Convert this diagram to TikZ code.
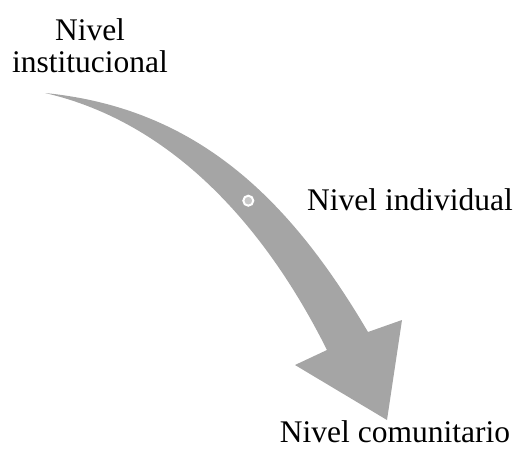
\documentclass[tikz,border=0pt]{standalone}
\usepackage{fontspec}
\setmainfont{Liberation Serif}
\definecolor{arrowgray}{RGB}{165,165,165}
\definecolor{dotgray}{RGB}{200,200,200}
\tikzset{lbl/.style={inner sep=0pt,font=\fontsize{31.5}{32}\selectfont}}

\begin{document}
\begin{tikzpicture}[x=1pt,y=-1pt]
	\useasboundingbox (0,0) rectangle (515,448);
	
	\fill[arrowgray] (45,93) .. controls (195,108) and (288,196) .. (368,332)
		-- (402,320) -- (387,420) -- (295,365) -- (327,350)
		.. controls (267,230) and (175,123) .. (45,93) -- cycle;
	\draw[white,line width=2pt,fill=dotgray] (248.3,200.7) circle (5);
	
	\node[lbl,anchor=base,align=center] (inst) at (90,72) {Nivel\\institucional};
	\node[lbl,anchor=base west] (indiv) at (307,210) {Nivel individual};
	\node[lbl,anchor=base] (comun) at (395,442) {Nivel comunitario};
\end{tikzpicture}
\end{document}
